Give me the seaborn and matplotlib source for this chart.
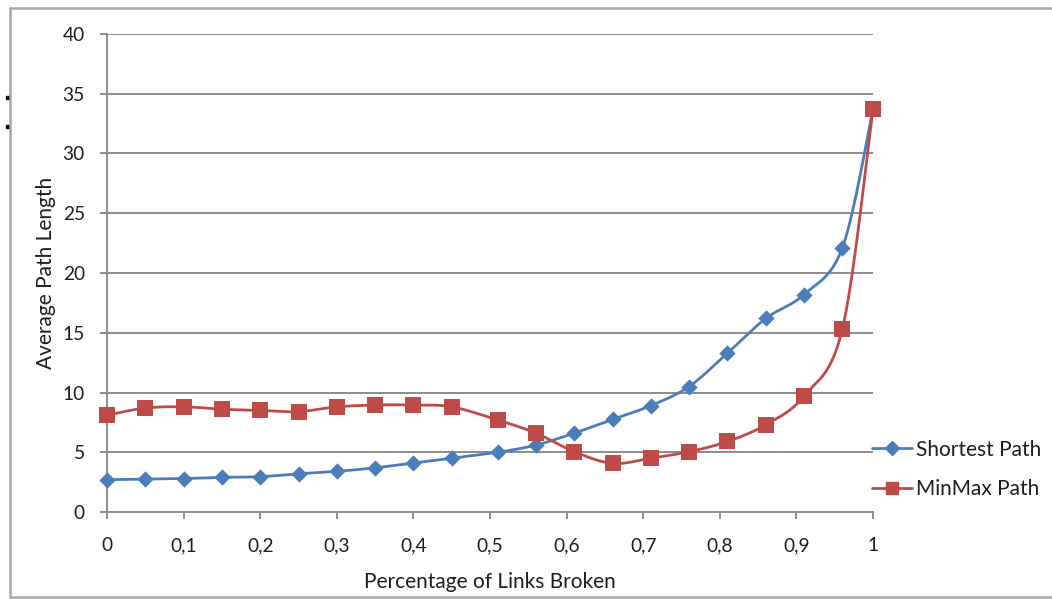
import numpy as np
import pandas as pd
import matplotlib
matplotlib.use("Agg")
import matplotlib.pyplot as plt
from matplotlib.ticker import FuncFormatter, MultipleLocator
from matplotlib.lines import Line2D
from matplotlib.patches import Rectangle
import seaborn as sns

# Fraction of links broken (x) and the two average path lengths
links_broken = [0.00, 0.05, 0.10, 0.15, 0.20, 0.25, 0.30, 0.35, 0.40, 0.45,
                0.51, 0.56, 0.61, 0.66, 0.71, 0.76, 0.81, 0.86, 0.91, 0.96, 1.00]
shortest_path = [2.7, 2.75, 2.8, 2.9, 2.95, 3.2, 3.4, 3.7, 4.1, 4.5,
                 5.0, 5.6, 6.6, 7.75, 8.9, 10.5, 13.3, 16.2, 18.2, 22.1, 33.7]
minmax_path = [8.1, 8.7, 8.8, 8.6, 8.5, 8.4, 8.8, 8.95, 8.95, 8.8,
               7.7, 6.6, 5.05, 4.07, 4.5, 5.05, 5.9, 7.3, 9.7, 15.3, 33.7]
series_names = ["Shortest Path", "MinMax Path"]

BLUE = "#4A7EBB"
RED = "#BE4B48"
GRID = "#8c8c8c"
TEXT = "#1e1e1e"

sns.set_theme(style="white")
plt.rcParams["font.family"] = ["Lato", "DejaVu Sans"]

W, H = 1052, 599
fig = plt.figure(figsize=(W / 100, H / 100), dpi=100)
ax = fig.add_axes([107 / W, (H - 512) / H, 766 / W, 478 / H])


def smooth_curve(xs, ys, sx, sy, n=30):
    """Catmull-Rom curve through the points, built in screen-like units."""
    px = np.asarray(xs) * sx
    py = np.asarray(ys) * sy
    pts = np.column_stack([px, py])
    ext = np.vstack([pts[0], pts, pts[-1]])
    out = []
    t = np.linspace(0, 1, n)[:, None]
    for i in range(1, len(ext) - 2):
        p0, p1, p2, p3 = ext[i - 1], ext[i], ext[i + 1], ext[i + 2]
        c1 = p1 + (p2 - p0) / 6.0
        c2 = p2 - (p3 - p1) / 6.0
        seg = ((1 - t) ** 3) * p1 + 3 * ((1 - t) ** 2) * t * c1 + 3 * (1 - t) * t ** 2 * c2 + t ** 3 * p2
        out.append(seg if i == 1 else seg[1:])
    out = np.vstack(out)
    return out[:, 0] / sx, out[:, 1] / sy


df = pd.DataFrame({"x": links_broken,
                   series_names[0]: shortest_path,
                   series_names[1]: minmax_path})

styles = {series_names[0]: (BLUE, "D", 8.3), series_names[1]: (RED, "s", 12.2)}
for name in series_names:
    color, marker, ms = styles[name]
    cx, cy = smooth_curve(df["x"], df[name], 766.0, 11.95)
    ax.plot(cx, cy, color=color, lw=2.0, solid_capstyle="round", zorder=3)
for name in series_names:
    color, marker, ms = styles[name]
    sns.scatterplot(data=df, x="x", y=name, ax=ax, marker=marker, s=ms ** 2,
                    color=color, edgecolor=color, linewidth=0, zorder=4,
                    legend=False, clip_on=False)

ax.set_xlim(0, 1)
ax.set_ylim(0, 40)
ax.xaxis.set_major_locator(MultipleLocator(0.1))
ax.yaxis.set_major_locator(MultipleLocator(5))


def comma_fmt(v, pos):
    s = f"{v:.1f}".rstrip("0").rstrip(".")
    return s.replace(".", ",")


ax.xaxis.set_major_formatter(FuncFormatter(comma_fmt))
ax.yaxis.set_major_formatter(FuncFormatter(lambda v, p: f"{v:.0f}"))

ax.grid(axis="y", color=GRID, lw=1.4)
ax.grid(axis="x", visible=False)
ax.set_axisbelow(True)
for side in ["top", "right"]:
    ax.spines[side].set_visible(False)
for side in ["left", "bottom"]:
    ax.spines[side].set_color(GRID)
    ax.spines[side].set_linewidth(1.4)

ax.tick_params(axis="both", which="major", direction="out", length=5,
               width=1.4, color=GRID, labelsize=13.8, labelcolor=TEXT,
               left=True, bottom=True)
ax.tick_params(axis="x", pad=13)
ax.tick_params(axis="y", pad=11)

ax.set_xlabel("Percentage of Links Broken", fontsize=15, color=TEXT, labelpad=13)
ax.set_ylabel("Average Path Length", fontsize=15, color=TEXT, labelpad=5)

handles = [Line2D([], [], color=styles[n][0], marker=styles[n][1], lw=2.0,
                  markersize=styles[n][2] * (0.8 if n == series_names[0] else 0.72))
           for n in series_names]
fig.legend(handles, series_names, loc="center left",
           bbox_to_anchor=(862 / W, 1 - 469.5 / H), frameon=False,
           fontsize=15, handlelength=1.9, handletextpad=0.2,
           labelspacing=0.95, borderpad=0, labelcolor=TEXT)

# Chart-area frame
frame_kw = dict(color="#a6a6a6", lw=1.8, transform=fig.transFigure, clip_on=False)
fig.add_artist(Line2D([10 / W, 10 / W], [1 - 8 / H, 1 - 597 / H], **frame_kw))
fig.add_artist(Line2D([10 / W, 1.0], [1 - 8 / H, 1 - 8 / H], **frame_kw))
fig.add_artist(Line2D([10 / W, 1.0], [1 - 597 / H, 1 - 597 / H], **frame_kw))
for yy in (97, 126):
    fig.add_artist(Rectangle((6 / W, 1 - (yy + 2) / H), 3 / W, 3 / H,
                             transform=fig.transFigure, color="black"))

fig.savefig("out.png", dpi=100)
